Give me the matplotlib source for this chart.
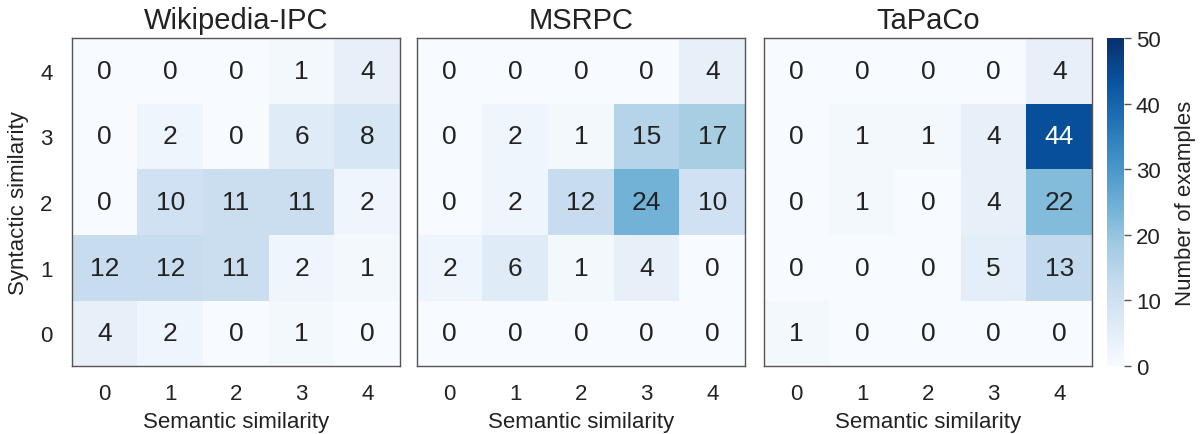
import numpy as np
import matplotlib
matplotlib.use("Agg")
import matplotlib.pyplot as plt

plt.rcParams['font.family'] = ['Liberation Sans', 'DejaVu Sans']

titles = ["Wikipedia-IPC", "MSRPC", "TaPaCo"]
levels = [0, 1, 2, 3, 4]

# rows = syntactic similarity 0..4, cols = semantic similarity 0..4
wiki = [[4, 2, 0, 1, 0],
        [12, 12, 11, 2, 1],
        [0, 10, 11, 11, 2],
        [0, 2, 0, 6, 8],
        [0, 0, 0, 1, 4]]
msrpc = [[0, 0, 0, 0, 0],
         [2, 6, 1, 4, 0],
         [0, 2, 12, 24, 10],
         [0, 2, 1, 15, 17],
         [0, 0, 0, 0, 4]]
tapaco = [[1, 0, 0, 0, 0],
          [0, 0, 0, 5, 13],
          [0, 1, 0, 4, 22],
          [0, 1, 1, 4, 44],
          [0, 0, 0, 0, 4]]
matrices = [wiki, msrpc, tapaco]

W, H = 1203, 435
fig = plt.figure(figsize=(W / 100, H / 100), dpi=100)

lefts = [72, 417, 764]
axw = 328
bottom = (H - 367) / H
height = 328 / H
txt = '#222222'

for k, (name, m) in enumerate(zip(titles, matrices)):
    ax = fig.add_axes([lefts[k] / W, bottom, axw / W, height])
    arr = np.array(m)
    im = ax.imshow(arr, cmap='Blues', vmin=0, vmax=50, origin='lower', aspect='auto')
    for i in range(5):
        for j in range(5):
            v = arr[i, j]
            ax.text(j, i, str(v), ha='center', va='center', fontsize=19,
                    color='white' if v > 35 else txt)
    ax.set_xticks(range(5))
    ax.set_xticklabels([str(l) for l in levels])
    ax.set_yticks(range(5))
    if k == 0:
        ax.set_yticklabels([str(l) for l in levels])
        ax.set_ylabel("Syntactic similarity", fontsize=16, color=txt, labelpad=8)
    else:
        ax.set_yticklabels([])
    ax.tick_params(axis='x', length=0, labelsize=16, labelcolor=txt, pad=12)
    ax.tick_params(axis='y', length=0, labelsize=16, labelcolor=txt, pad=14)
    ax.set_xlabel("Semantic similarity", fontsize=16, color=txt, labelpad=5)
    ax.set_title(name, fontsize=21, color=txt, pad=7)
    for s in ax.spines.values():
        s.set_color('#555555')
        s.set_linewidth(1.0)

cax = fig.add_axes([1107 / W, bottom, 17 / W, height])
cb = fig.colorbar(im, cax=cax, ticks=[0, 10, 20, 30, 40, 50])
cb.outline.set_visible(False)
cb.ax.tick_params(labelsize=16, labelcolor=txt, color='#555555', length=5, width=1)
cb.set_label("Number of examples", fontsize=16, color=txt, labelpad=10)

fig.savefig("out.png", dpi=100)
